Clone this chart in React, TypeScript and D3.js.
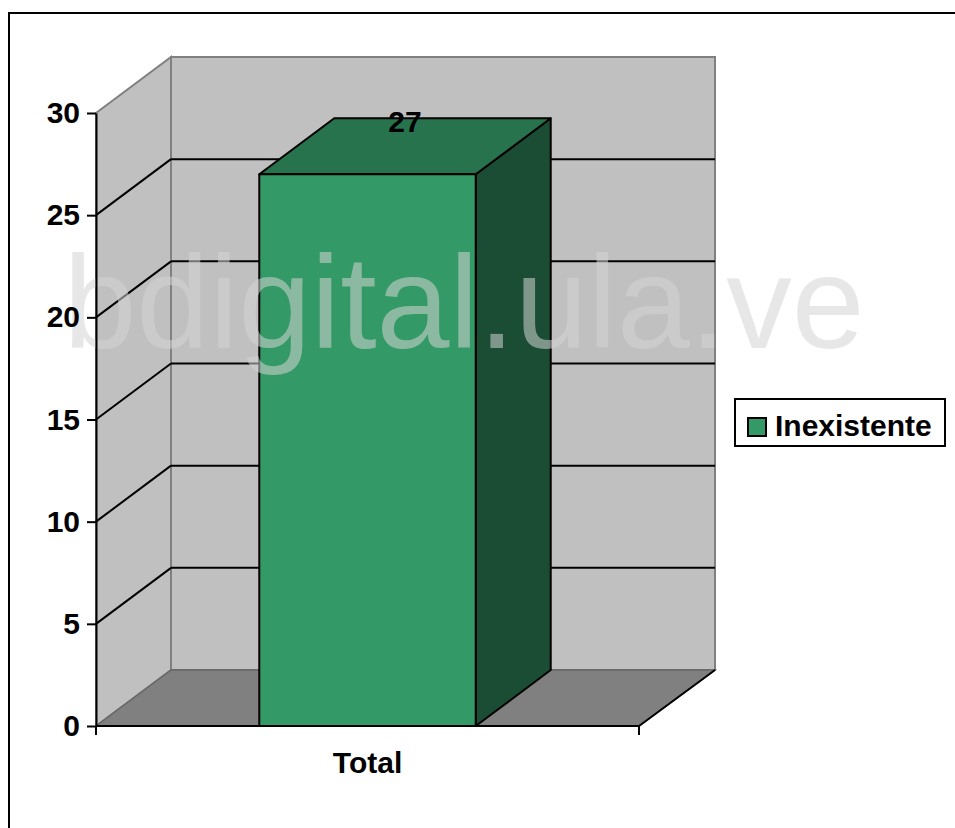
import React, { useEffect, useRef } from 'react';
import * as d3 from 'd3';

const categories = ['Total'];
const values = [27];
const seriesNames = ['Inexistente'];
const yTicks = [0, 5, 10, 15, 20, 25, 30];

export default function App() {
  const svgRef = useRef<SVGSVGElement>(null);

  useEffect(() => {
    const svg = d3.select(svgRef.current);
    svg.selectAll('*').remove();

    const font = 'Arial, "Liberation Sans", sans-serif';
    // front plane + depth offset of the 3d box
    const left = 96;
    const right = 639;
    const depth = { dx: 75, dy: -56 };

    const y = d3.scaleLinear().domain([0, 30]).range([726, 113]);
    const x = d3.scaleBand().domain(categories).range([left, right]).padding(0.43);

    const pts = (p: number[][]) => p.map((d) => d.join(',')).join(' ');
    const y0 = y(0);
    const yTop = y(30);

    // outer frame
    svg
      .append('rect')
      .attr('x', 9)
      .attr('y', 13)
      .attr('width', 1100)
      .attr('height', 1100)
      .attr('fill', '#fff')
      .attr('stroke', '#000')
      .attr('stroke-width', 2);

    // back wall
    svg
      .append('polygon')
      .attr(
        'points',
        pts([
          [left + depth.dx, yTop + depth.dy],
          [right + depth.dx + 1, yTop + depth.dy],
          [right + depth.dx + 1, y0 + depth.dy],
          [left + depth.dx, y0 + depth.dy],
        ])
      )
      .attr('fill', '#c0c0c0')
      .attr('stroke', '#808080')
      .attr('stroke-width', 2);

    // side wall
    svg
      .append('polygon')
      .attr(
        'points',
        pts([
          [left, yTop],
          [left + depth.dx, yTop + depth.dy],
          [left + depth.dx, y0 + depth.dy],
          [left, y0],
        ])
      )
      .attr('fill', '#c0c0c0')
      .attr('stroke', '#808080')
      .attr('stroke-width', 2);

    // floor
    svg
      .append('polygon')
      .attr(
        'points',
        pts([
          [left, y0],
          [left + depth.dx, y0 + depth.dy],
          [right + depth.dx + 1, y0 + depth.dy],
          [right, y0],
        ])
      )
      .attr('fill', '#808080')
      .attr('stroke', '#666')
      .attr('stroke-width', 1.5);
    svg
      .append('line')
      .attr('x1', right)
      .attr('y1', y0)
      .attr('x2', right + depth.dx + 1)
      .attr('y2', y0 + depth.dy)
      .attr('stroke', '#000')
      .attr('stroke-width', 2);

    // gridlines
    const grid = yTicks.filter((t) => t > 0 && t < 30);
    const g = svg.append('g').attr('stroke', '#000').attr('stroke-width', 2);
    grid.forEach((t) => {
      g.append('line')
        .attr('x1', left)
        .attr('y1', y(t))
        .attr('x2', left + depth.dx)
        .attr('y2', y(t) + depth.dy);
      g.append('line')
        .attr('x1', left + depth.dx)
        .attr('y1', y(t) + depth.dy)
        .attr('x2', right + depth.dx + 1)
        .attr('y2', y(t) + depth.dy);
    });

    // bars
    const barColors = { front: '#339966', top: '#26734d', side: '#1a4d33' };
    categories.forEach((c, i) => {
      const bx0 = x(c)!;
      const bx1 = bx0 + x.bandwidth();
      const by = y(values[i]);
      const bar = svg.append('g').attr('stroke', '#000').attr('stroke-width', 2).attr('stroke-linejoin', 'round');
      bar
        .append('polygon')
        .attr(
          'points',
          pts([
            [bx1, by],
            [bx1 + depth.dx, by + depth.dy],
            [bx1 + depth.dx, y0 + depth.dy],
            [bx1, y0],
          ])
        )
        .attr('fill', barColors.side);
      bar
        .append('polygon')
        .attr(
          'points',
          pts([
            [bx0, by],
            [bx0 + depth.dx, by + depth.dy],
            [bx1 + depth.dx, by + depth.dy],
            [bx1, by],
          ])
        )
        .attr('fill', barColors.top);
      bar
        .append('rect')
        .attr('x', bx0)
        .attr('y', by)
        .attr('width', bx1 - bx0)
        .attr('height', y0 - by)
        .attr('fill', barColors.front);
    });

    // watermark
    svg
      .append('text')
      .attr('x', 464)
      .attr('y', 348)
      .attr('text-anchor', 'middle')
      .attr('font-family', font)
      .attr('font-size', 131)
      .attr('fill', '#d4d4d4')
      .attr('fill-opacity', 0.55)
      .text('bdigital.ula.ve');

    // value labels
    categories.forEach((c, i) => {
      svg
        .append('text')
        .attr('x', x(c)! + x.bandwidth() / 2 + depth.dx / 2)
        .attr('y', 132)
        .attr('text-anchor', 'middle')
        .attr('font-family', font)
        .attr('font-weight', 'bold')
        .attr('font-size', 30)
        .text(values[i]);
    });

    // value axis
    const yAxis = d3.axisLeft(y).tickValues(yTicks).tickSize(9).tickSizeOuter(0).tickPadding(7);
    const ya = svg.append('g').attr('transform', `translate(${left},0)`).call(yAxis);
    ya.select('.domain').attr('stroke', '#000').attr('stroke-width', 2);
    ya.selectAll('.tick line').attr('stroke', '#000').attr('stroke-width', 2);
    ya.selectAll('.tick text')
      .attr('font-family', font)
      .attr('font-weight', 'bold')
      .attr('font-size', 30)
      .attr('fill', '#000');

    // category axis
    svg
      .append('line')
      .attr('x1', left)
      .attr('y1', y0)
      .attr('x2', right)
      .attr('y2', y0)
      .attr('stroke', '#000')
      .attr('stroke-width', 2);
    [left, right].forEach((px) => {
      svg
        .append('line')
        .attr('x1', px)
        .attr('y1', y0)
        .attr('x2', px)
        .attr('y2', y0 + 9)
        .attr('stroke', '#000')
        .attr('stroke-width', 2);
    });
    categories.forEach((c) => {
      svg
        .append('text')
        .attr('x', x(c)! + x.bandwidth() / 2)
        .attr('y', 773)
        .attr('text-anchor', 'middle')
        .attr('font-family', font)
        .attr('font-weight', 'bold')
        .attr('font-size', 30)
        .text(c);
    });

    // legend
    const lg = svg.append('g').attr('transform', 'translate(735,399)');
    lg.append('rect')
      .attr('width', 210)
      .attr('height', 47)
      .attr('fill', '#fff')
      .attr('stroke', '#000')
      .attr('stroke-width', 2);
    seriesNames.forEach((s, i) => {
      lg.append('rect')
        .attr('x', 13)
        .attr('y', 19 + i * 30)
        .attr('width', 18)
        .attr('height', 18)
        .attr('fill', barColors.front)
        .attr('stroke', '#000')
        .attr('stroke-width', 2);
      lg.append('text')
        .attr('x', 40)
        .attr('y', 37 + i * 30)
        .attr('font-family', font)
        .attr('font-weight', 'bold')
        .attr('font-size', 30)
        .text(s);
    });
  }, []);

  return (
    <svg
      ref={svgRef}
      width="955"
      height="828"
      style={{ position: 'absolute', left: 0, top: 0, background: '#fff' }}
    ></svg>
  );
}
